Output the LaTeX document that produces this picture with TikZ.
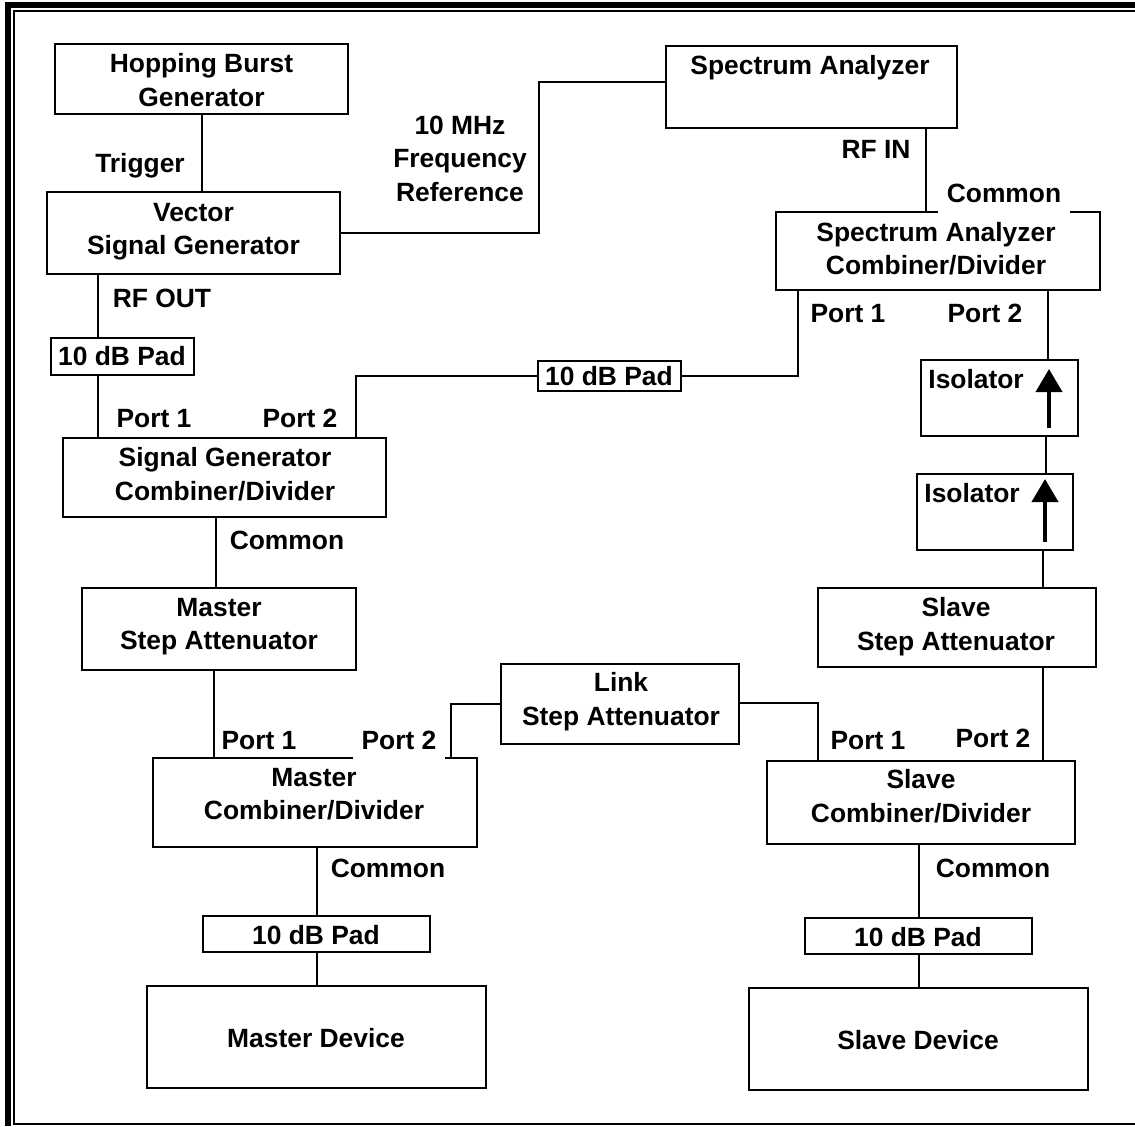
\documentclass[tikz,border=0pt]{standalone}
\usepackage{fontspec}
\setmainfont{Liberation Sans}
\usetikzlibrary{calc,arrows.meta}
\tikzset{
  box/.style={draw, line width=1pt, fill=white, inner sep=0pt},
  txt/.style={font=\fontsize{13.2}{16.8}\selectfont\bfseries, align=center, inner sep=0pt},
  cover/.style={txt, fill=white, inner xsep=4.4pt, inner ysep=1pt},
  wire/.style={line width=1pt},
  isoarrow/.style={line width=2pt, -{Triangle[width=13pt,length=11.5pt]}},
}
\begin{document}
\begin{tikzpicture}[x=0.5pt, y=-0.5pt]
\useasboundingbox (0,0) rectangle (1135,1126);
% frame
\fill (5,2) rectangle (1135,8);
\fill (5,2) rectangle (11,1126);
\draw[line width=1.2pt] (1135,10.7) -- (14,10.7) -- (14,1124) -- (1135,1124);

% boxes
\node[box, minimum width=146.5pt, minimum height=35pt] (hbg) at (201.5,79) {};
\node[box, minimum width=146.5pt, minimum height=41pt] (vsg) at (193.5,233) {};
\node[box, minimum width=145.5pt, minimum height=41pt] (sa) at (811.5,87) {};
\node[box, minimum width=162pt, minimum height=39pt] (sacd) at (938,251) {};
\node[box, minimum width=71.5pt, minimum height=18.5pt] (pad1) at (122.5,356.5) {};
\node[box, minimum width=71.5pt, minimum height=15pt] (pad2) at (609.5,376) {};
\node[box, minimum width=161.5pt, minimum height=39.5pt] (sgcd) at (224.5,477.5) {};
\node[box, minimum width=137pt, minimum height=41pt] (msa) at (219,629) {};
\node[box, minimum width=162pt, minimum height=44.5pt] (mcd) at (315,802.5) {};
\node[box, minimum width=119pt, minimum height=40pt] (link) at (620,704) {};
\node[box, minimum width=113.5pt, minimum height=18pt] (mpad) at (316.5,934) {};
\node[box, minimum width=169.5pt, minimum height=51pt] (mdev) at (316.5,1037) {};
\node[box, minimum width=78.5pt, minimum height=38pt] (iso1) at (999.5,398) {};
\node[box, minimum width=78pt, minimum height=38pt] (iso2) at (995,512) {};
\node[box, minimum width=139pt, minimum height=39.5pt] (ssa) at (957,627.5) {};
\node[box, minimum width=154pt, minimum height=41.5pt] (scd) at (921,802.5) {};
\node[box, minimum width=113.5pt, minimum height=18pt] (spad) at (918.5,936) {};
\node[box, minimum width=169.5pt, minimum height=51pt] (sdev) at (918.5,1039) {};

% helper coordinates
\coordinate (rf) at (98,300);
\coordinate (sgp2) at (356,376);
\coordinate (sap1) at (798,376);
\coordinate (fr) at (539,82);
\coordinate (sain) at (926,170);
\coordinate (sap2) at (1048,320);
\coordinate (i12) at (1046,455);
\coordinate (chain) at (1043,600);
\coordinate (sgc) at (216,550);
\coordinate (mp1) at (214,700);
\coordinate (mp2) at (451,704);
\coordinate (sp1) at (818,703);

% connectors
\draw[wire] (hbg.south) -- (hbg.south |- vsg.north);
\draw[wire] (vsg.east) -| (fr) -- (fr -| sa.west);
\draw[wire] (vsg.south -| rf) -- (pad1.north -| rf);
\draw[wire] (pad1.south -| rf) -- (sgcd.north -| rf);
\draw[wire] (sgcd.north -| sgp2) |- (pad2.west);
\draw[wire] (pad2.east) -| (sacd.south -| sap1);
\draw[wire] (sa.south -| sain) -- (sacd.north -| sain);
\draw[wire] (sacd.south -| sap2) -- (iso1.north -| sap2);
\draw[wire] (iso1.south -| i12) -- (iso2.north -| i12);
\draw[wire] (iso2.south -| chain) -- (ssa.north -| chain);
\draw[wire] (ssa.south -| chain) -- (scd.north -| chain);
\draw[wire] (link.east |- sp1) -| (scd.north -| sp1);
\draw[wire] (mcd.north -| mp2) |- (link.west);
\draw[wire] (sgcd.south -| sgc) -- (msa.north -| sgc);
\draw[wire] (msa.south -| mp1) -- (mcd.north -| mp1);
\draw[wire] (mcd.south -| mpad.north) -- (mpad.north);
\draw[wire] (mpad.south) -- (mpad.south |- mdev.north);
\draw[wire] (scd.south -| spad.north) -- (spad.north);
\draw[wire] (spad.south) -- (spad.south |- sdev.north);

% isolator arrows
\draw[isoarrow] ($(iso1.south east)+(-30,-9)$) -- ($(iso1.north east)+(-30,10)$);
\draw[isoarrow] ($(iso2.south east)+(-29,-9)$) -- ($(iso2.north east)+(-29,6)$);

% texts
\node[txt] (hbgt) at (201.5,83) {\strut Hopping Burst\\\strut Generator};
\node[txt] (trig) at (140,166) {\strut Trigger};
\node[txt] (vsgt) at (193.5,231.4) {\strut Vector\\\strut Signal Generator};
\node[txt] (mhz) at (460,161) {\strut 10 MHz\\\strut Frequency\\\strut Reference};
\node[txt] (rfout) at (162,301) {\strut RF OUT};
\node[txt] (pad1t) at (122,359) {\strut 10 dB Pad};
\node[txt] (sgp1l) at (154,421) {\strut Port 1};
\node[txt] (sgp2l) at (300,421) {\strut Port 2};
\node[txt] (sgcdt) at (225,477) {\strut Signal Generator\\\strut Combiner/Divider};
\node[txt] (sgcom) at (287,543) {\strut Common};
\node[txt] (msat) at (219,626.4) {\strut Master\\\strut Step Attenuator};
\node[txt] (mp1l) at (259,743) {\strut Port 1};
\node[cover] (mp2l) at (399,743) {\strut Port 2};
\node[txt] (mcdt) at (314,796.4) {\strut Master\\\strut Combiner/Divider};
\node[txt] (linkt) at (621,702) {\strut Link\\\strut Step Attenuator};
\node[txt] (mcom) at (388,871) {\strut Common};
\node[txt] (mpadt) at (316,938) {\strut 10 dB Pad};
\node[txt] (mdevt) at (316,1041) {\strut Master Device};
\node[txt] (sat) at (810,68) {\strut Spectrum Analyzer};
\node[txt] (rfin) at (876,152) {\strut RF IN};
\node[cover] (sacom) at (1004,196) {\strut Common};
\node[txt] (sacdt) at (936,251.4) {\strut Spectrum Analyzer\\\strut Combiner/Divider};
\node[txt] (sap1l) at (848,316) {\strut Port 1};
\node[txt] (sap2l) at (985,316) {\strut Port 2};
\node[txt] (pad2t) at (609,379) {\strut 10 dB Pad};
\node[txt, anchor=west] (iso1t) at (928,382) {\strut Isolator};
\node[txt, anchor=west] (iso2t) at (924,496) {\strut Isolator};
\node[txt] (ssat) at (956,627) {\strut Slave\\\strut Step Attenuator};
\node[txt] (sp1l) at (868,743) {\strut Port 1};
\node[txt] (sp2l) at (993,741) {\strut Port 2};
\node[txt] (scdt) at (921,799) {\strut Slave\\\strut Combiner/Divider};
\node[txt] (scom) at (993,871) {\strut Common};
\node[txt] (spadt) at (918,940) {\strut 10 dB Pad};
\node[txt] (sdevt) at (918,1043) {\strut Slave Device};
\end{tikzpicture}
\end{document}
